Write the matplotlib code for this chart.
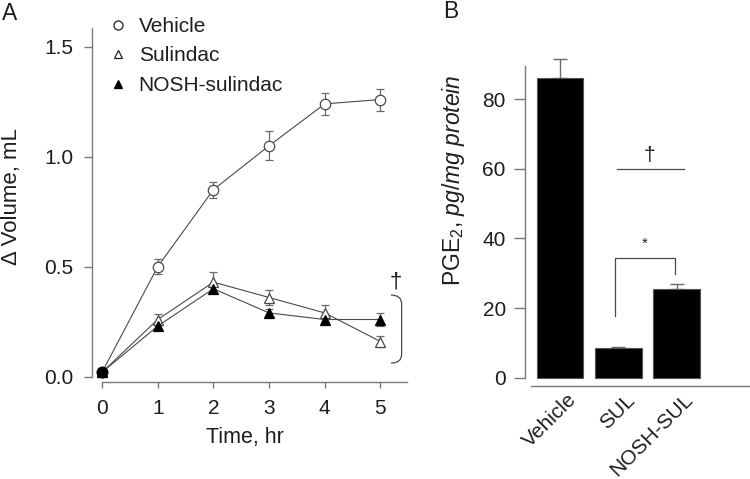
import matplotlib
matplotlib.use("Agg")
import matplotlib.pyplot as plt
from matplotlib.lines import Line2D
from matplotlib.path import Path
from matplotlib.patches import PathPatch
import matplotlib.transforms as mtransforms
import numpy as np

plt.rcParams['font.family'] = ['Liberation Sans', 'DejaVu Sans']
plt.rcParams['mathtext.fontset'] = 'custom'
plt.rcParams['mathtext.rm'] = 'Liberation Sans'
plt.rcParams['mathtext.it'] = 'Liberation Sans:italic'

# ---------------- data ----------------
time_hr = [0, 1, 2, 3, 4, 5]
vehicle = [0.02, 0.50, 0.85, 1.05, 1.24, 1.26]
vehicle_err = [0.0, 0.035, 0.037, 0.065, 0.05, 0.05]
sulindac = [0.02, 0.26, 0.43, 0.36, 0.29, 0.16]
sulindac_err = [0.0, 0.025, 0.048, 0.033, 0.035, 0.026]
nosh = [0.02, 0.23, 0.40, 0.29, 0.26, 0.26]
nosh_err = [0.0, 0.015, 0.02, 0.02, 0.02, 0.03]
series_labels = ['Vehicle', 'Sulindac', 'NOSH-sulindac']
a_yticks = [0.0, 0.5, 1.0, 1.5]
a_xticks = [0, 1, 2, 3, 4, 5]

groups = ['Vehicle', 'SUL', 'NOSH-SUL']
pge2 = [86.2, 8.4, 25.5]
pge2_err = [5.3, 0.4, 1.4]
b_yticks = [0, 20, 40, 60, 80]

TXT = '#1e1e1e'
AX = '#7a7a7a'
LN = '#4a4a4a'
EB = '#6a6a6a'

fig = plt.figure(figsize=(7.5, 4.79), dpi=100)

# ---------------- panel A ----------------
W, H = 750.0, 479.0
axA = fig.add_axes([91.7 / W, 1 - 382.0 / H, 315.5 / W, (382.0 - 24.7) / H])
axA.set_xlim(-0.185, 5.48)
axA.set_ylim(-0.024, 1.6)

ms_c = 7.5
ms_t = 6.5
axA.errorbar(time_hr, vehicle, yerr=vehicle_err, fmt='none', ecolor=EB,
             elinewidth=0.9, capsize=3, capthick=0.9, zorder=2)
axA.errorbar(time_hr, sulindac, yerr=sulindac_err, fmt='none', ecolor=EB,
             elinewidth=0.9, capsize=3, capthick=0.9, zorder=2)
axA.errorbar(time_hr, nosh, yerr=nosh_err, fmt='none', ecolor=EB,
             elinewidth=0.9, capsize=3, capthick=0.9, zorder=2)
axA.plot(time_hr, vehicle, '-', color=LN, lw=0.8, marker='o', ms=ms_c,
         mfc='white', mec=LN, mew=0.9, zorder=3)
axA.plot(time_hr, sulindac, '-', color=LN, lw=0.8, marker='^', ms=ms_t,
         mfc='white', mec=LN, mew=0.9, zorder=4)
axA.plot(time_hr, nosh, '-', color=LN, lw=0.8, marker='^', ms=ms_t,
         mfc='black', mec='black', mew=0.9, zorder=5)
axA.plot(time_hr[:1], vehicle[:1], 'o', ms=ms_c, mfc='black', mec='black', zorder=6)

for s in ['top', 'right']:
    axA.spines[s].set_visible(False)
axA.spines['left'].set_bounds(0, 1.585)
axA.spines['bottom'].set_bounds(0, 5.48)
for s in ['left', 'bottom']:
    axA.spines[s].set_color(AX)
    axA.spines[s].set_linewidth(1.0)
axA.set_yticks(a_yticks)
axA.set_yticklabels([f'{v:.1f}' for v in a_yticks])
axA.set_xticks(a_xticks)
axA.tick_params(axis='y', length=6, width=1.0, color=AX, pad=7, labelsize=15, labelcolor=TXT)
axA.tick_params(axis='x', length=4.5, width=1.0, color=AX, pad=8, labelsize=15, labelcolor=TXT)
axA.set_xlabel('Time, hr', fontsize=15.5, color=TXT)
axA.xaxis.set_label_coords(245 / W, 1 - 443 / H, transform=fig.transFigure)
axA.xaxis.label.set_va('baseline')
axA.set_ylabel('\u0394 Volume, mL', fontsize=16, color=TXT)
axA.yaxis.set_label_coords(22 / W, 1 - 197 / H, transform=fig.transFigure)

# bracket + dagger
bx0, bx1 = 5.19, 5.38
by_top, by_bot = 0.371, 0.062
verts = [(bx0, by_top), (bx1, by_top), (bx1, by_top - 0.04),
         (bx1, by_bot + 0.04), (bx1, by_bot), (bx0, by_bot)]
codes = [Path.MOVETO, Path.CURVE3, Path.CURVE3, Path.LINETO, Path.CURVE3, Path.CURVE3]
axA.add_patch(PathPatch(Path(verts, codes), fill=False, ec=LN, lw=0.9, clip_on=False))
axA.text(5.27, 0.43, '\u2020', ha='center', va='center', fontsize=16, color=TXT)

handles = [Line2D([], [], ls='none', marker='o', ms=6.5, mfc='white', mec=TXT, mew=0.9),
           Line2D([], [], ls='none', marker='^', ms=5.5, mfc='white', mec=TXT, mew=0.9),
           Line2D([], [], ls='none', marker='^', ms=5.5, mfc='black', mec='black', mew=0.9)]
axA.legend(handles, series_labels, loc='upper left',
           bbox_to_anchor=(107.3 / W, 1 - 17 / H), bbox_transform=fig.transFigure,
           frameon=False, fontsize=15, handlelength=1.0, handletextpad=0.5,
           labelspacing=0.5, borderpad=0, borderaxespad=0, labelcolor=TXT)

fig.text(10 / W, 1 - 13 / H, 'A', fontsize=16.5, ha='center', va='center', color=TXT)

# ---------------- panel B ----------------
axB = fig.add_axes([525.3 / W, 1 - 386.0 / H, 224.2 / W, (386.0 - 54.06) / H])
xb = np.arange(len(groups))
axB.set_xlim(-0.595, 3.25)
axB.set_ylim(-2.39, 93)
axB.bar(xb, pge2, width=0.8, color='black', edgecolor='#555555', linewidth=0.8, zorder=2)
axB.errorbar(xb, pge2, yerr=[np.zeros(len(pge2)), pge2_err], fmt='none',
             ecolor=EB, elinewidth=1.0, capsize=5, capthick=1.0, zorder=1)

for s in ['top', 'right']:
    axB.spines[s].set_visible(False)
axB.spines['left'].set_bounds(0, 89.7)
axB.spines['bottom'].set_bounds(-0.497, 3.24)
for s in ['left', 'bottom']:
    axB.spines[s].set_color(AX)
    axB.spines[s].set_linewidth(1.0)
axB.set_yticks(b_yticks)
axB.tick_params(axis='y', length=8, width=1.0, color=AX, pad=6, labelsize=15, labelcolor=TXT)
axB.set_xticks(xb)
axB.set_xticklabels(groups, rotation=45, ha='right', va='top', rotation_mode='anchor')
axB.tick_params(axis='x', length=0, pad=3, labelsize=15, labelcolor=TXT)
for lbl in axB.get_xticklabels():
    lbl.set_transform(lbl.get_transform() + mtransforms.ScaledTranslation(7 / 100, 0, fig.dpi_scale_trans))
axB.set_ylabel(r'PGE$_2$, $\mathit{pg/mg\ protein}$', fontsize=16.5, color=TXT)
axB.yaxis.set_label_coords(467 / W, 1 - 180 / H, transform=fig.transFigure)

# significance annotations
axB.plot([0.98, 2.13], [60, 60], color=LN, lw=0.9, clip_on=False)
axB.text(1.54, 61, '\u2020', ha='center', va='bottom', fontsize=15, color=TXT)
axB.plot([0.94, 0.94, 1.98, 1.98], [17.7, 34.5, 34.5, 29.7], color=LN, lw=0.9, clip_on=False)
axB.text(1.46, 36.5, '*', ha='center', va='bottom', fontsize=11, color=TXT)

fig.text(451 / W, 1 - 12 / H, 'B', fontsize=16.5, ha='center', va='center', color=TXT)

fig.savefig('out.png', dpi=100)
